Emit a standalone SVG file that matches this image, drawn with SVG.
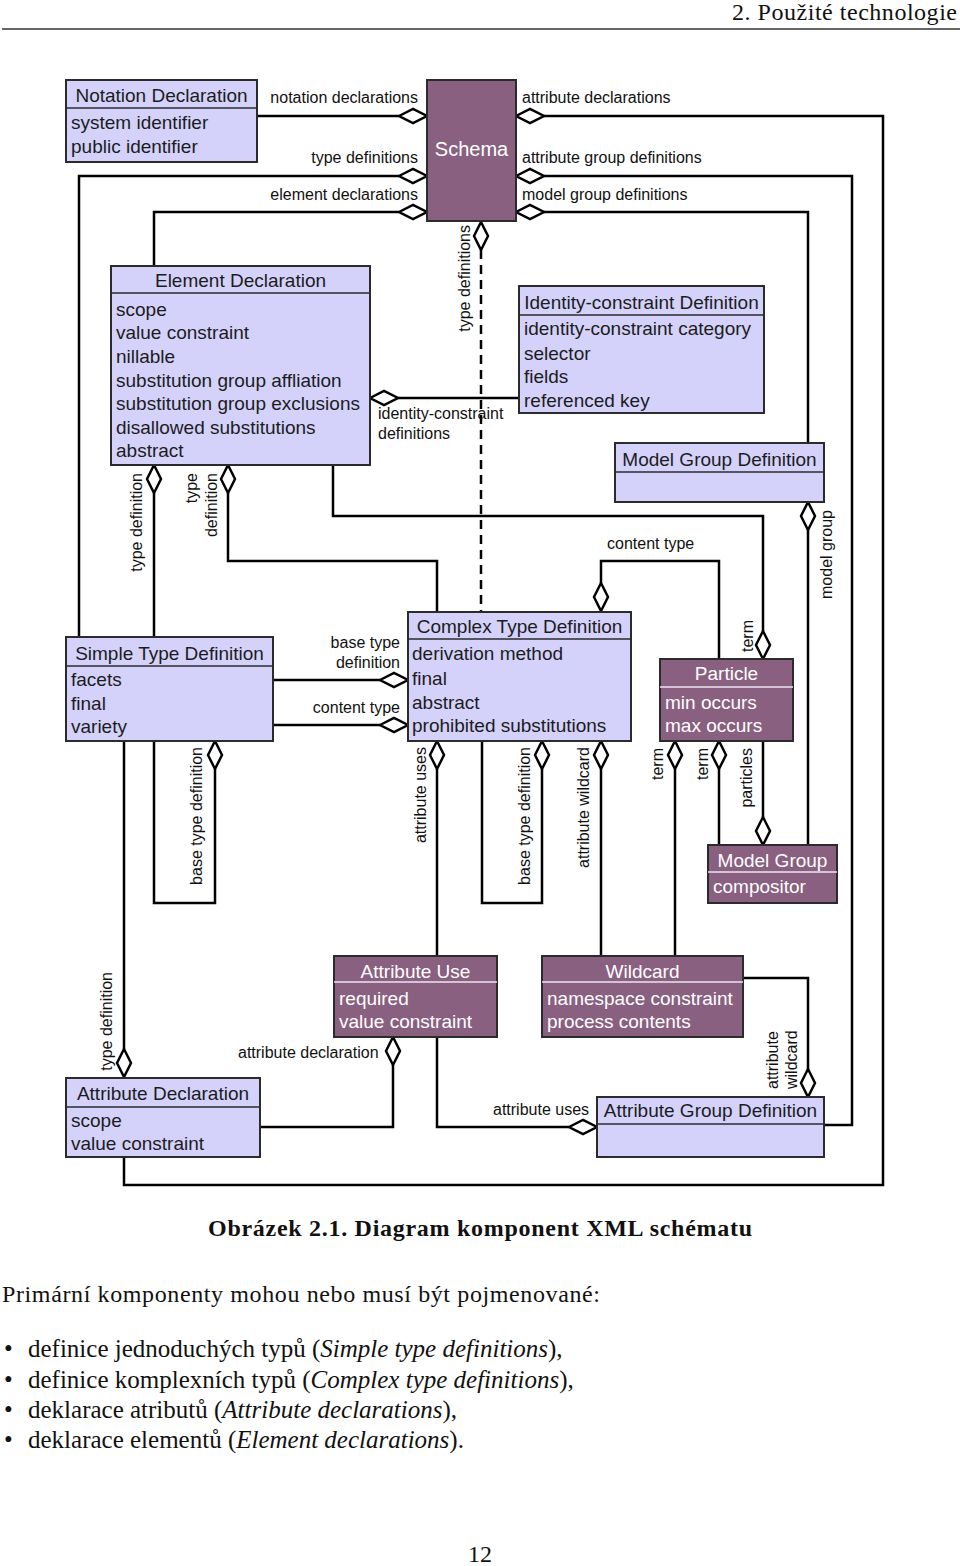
<svg xmlns="http://www.w3.org/2000/svg" xmlns:xlink="http://www.w3.org/1999/xlink" width="960" height="1566" viewBox="0 0 960 1566">
<style>
.box{fill:#d4d2fb;stroke:#2b2b2b;stroke-width:2}
.pbox{fill:#8a6080;stroke:#2b2b2b;stroke-width:2}
.div{stroke:#2b2b2b;stroke-width:1.6}
.pdiv{stroke:#ece4f2;stroke-width:1.6}
.t{font-family:"Liberation Sans",Arial,sans-serif;font-size:19px;fill:#1c1c1c}
.pt{font-family:"Liberation Sans",Arial,sans-serif;font-size:19px;fill:#ffffff}
.ct{text-anchor:middle}
.lbl{font-family:"Liberation Sans",Arial,sans-serif;font-size:16px;fill:#111}
.e{text-anchor:end}
.c{fill:none;stroke:#000;stroke-width:2.5}
.dash{fill:none;stroke:#000;stroke-width:2.5;stroke-dasharray:9,6}
.d{fill:#fff;stroke:#000;stroke-width:2.5}
.pg{font-family:"Liberation Serif","Times New Roman",serif;font-size:24px;fill:#111}
.bl{font-size:25px}
</style>
<defs>
<path id="dh" d="M-14,0 L0,-7 L14,0 L0,7 Z"/>
<path id="dv" d="M0,-14 L7,0 L0,14 L-7,0 Z"/>
</defs>
<rect width="960" height="1566" fill="#fff"/>

<g id="page-header">
<text class="pg" x="957" y="20" text-anchor="end" textLength="225">2. Použité technologie</text>
<line x1="2" y1="29" x2="960" y2="29" stroke="#333" stroke-width="1.6"/>
</g>

<g id="connectors">
<path class="c" d="M257,116 H399"/>
<path class="c" d="M399,176 H79 V637"/>
<path class="c" d="M399,212 H154 V266"/>
<path class="c" d="M544,116 H883 V1185 H124 V1157"/>
<path class="c" d="M544,176 H852 V1125 H824"/>
<path class="c" d="M544,212 H808 V443"/>
<path class="dash" d="M481,250 V611"/>
<path class="c" d="M398,398 H519"/>
<path class="c" d="M154,493 V637"/>
<path class="c" d="M228,493 V561 H437 V611"/>
<path class="c" d="M333,465 V516 H763 V631"/>
<path class="c" d="M601,583 V561 H719 V659"/>
<path class="c" d="M273,680 H380"/>
<path class="c" d="M273,725 H380"/>
<path class="c" d="M154,741 V903 H215 V769"/>
<path class="c" d="M124,741 V1049"/>
<path class="c" d="M437,769 V956"/>
<path class="c" d="M482,741 V903 H542 V769"/>
<path class="c" d="M601,769 V956"/>
<path class="c" d="M675,769 V956"/>
<path class="c" d="M719,769 V845"/>
<path class="c" d="M763,817 V741"/>
<path class="c" d="M808,530 V845"/>
<path class="c" d="M393,1065 V1127 H260"/>
<path class="c" d="M437,1037 V1127 H569"/>
<path class="c" d="M743,978 H808 V1069"/>

<use href="#dh" x="413" y="116" class="d"/>
<use href="#dh" x="413" y="176" class="d"/>
<use href="#dh" x="413" y="212" class="d"/>
<use href="#dh" x="530" y="116" class="d"/>
<use href="#dh" x="530" y="176" class="d"/>
<use href="#dh" x="530" y="212" class="d"/>
<use href="#dh" x="384" y="398" class="d"/>
<use href="#dh" x="394" y="680" class="d"/>
<use href="#dh" x="394" y="725" class="d"/>
<use href="#dh" x="583" y="1127" class="d"/>
<use href="#dv" x="481" y="236" class="d"/>
<use href="#dv" x="154" y="479" class="d"/>
<use href="#dv" x="228" y="479" class="d"/>
<use href="#dv" x="601" y="597" class="d"/>
<use href="#dv" x="808" y="516" class="d"/>
<use href="#dv" x="763" y="645" class="d"/>
<use href="#dv" x="215" y="755" class="d"/>
<use href="#dv" x="437" y="755" class="d"/>
<use href="#dv" x="542" y="755" class="d"/>
<use href="#dv" x="601" y="755" class="d"/>
<use href="#dv" x="675" y="755" class="d"/>
<use href="#dv" x="719" y="755" class="d"/>
<use href="#dv" x="763" y="831" class="d"/>
<use href="#dv" x="393" y="1051" class="d"/>
<use href="#dv" x="124" y="1063" class="d"/>
<use href="#dv" x="808" y="1083" class="d"/>

<text class="lbl e" x="418" y="103">notation declarations</text>
<text class="lbl e" x="418" y="163">type definitions</text>
<text class="lbl e" x="418" y="200">element declarations</text>
<text class="lbl" x="522" y="103">attribute declarations</text>
<text class="lbl" x="522" y="163">attribute group definitions</text>
<text class="lbl" x="522" y="200">model group definitions</text>
<text class="lbl e" transform="translate(470,225) rotate(-90)">type definitions</text>
<text class="lbl e" transform="translate(142,473) rotate(-90)">type definition</text>
<text class="lbl e" transform="translate(197,473) rotate(-90)">type</text>
<text class="lbl e" transform="translate(217,473) rotate(-90)">definition</text>
<text class="lbl" x="378" y="419">identity-constraint</text>
<text class="lbl" x="378" y="439">definitions</text>
<text class="lbl" x="607" y="549">content type</text>
<text class="lbl e" transform="translate(832,510) rotate(-90)">model group</text>
<text class="lbl e" x="400" y="648">base type</text>
<text class="lbl e" x="400" y="668">definition</text>
<text class="lbl e" x="400" y="713">content type</text>
<text class="lbl e" transform="translate(202,747) rotate(-90)">base type definition</text>
<text class="lbl e" transform="translate(426,747) rotate(-90)">attribute uses</text>
<text class="lbl e" transform="translate(530,747) rotate(-90)">base type definition</text>
<text class="lbl e" transform="translate(589,747) rotate(-90)">attribute wildcard</text>
<text class="lbl e" transform="translate(753,620) rotate(-90)">term</text>
<text class="lbl e" transform="translate(663,748) rotate(-90)">term</text>
<text class="lbl e" transform="translate(708,748) rotate(-90)">term</text>
<text class="lbl e" transform="translate(752,748) rotate(-90)">particles</text>
<text class="lbl e" transform="translate(112,972) rotate(-90)">type definition</text>
<text class="lbl" x="238" y="1058">attribute declaration</text>
<text class="lbl" x="493" y="1115">attribute uses</text>
<text class="lbl" transform="translate(778,1089) rotate(-90)">attribute</text>
<text class="lbl" transform="translate(797,1089) rotate(-90)">wildcard</text>
</g>

<g id="notation-declaration">
<rect class="box" x="66" y="80" width="191" height="82"/>
<line class="div" x1="66" y1="108" x2="257" y2="108"/>
<text class="t ct" x="161.5" y="102">Notation Declaration</text>
<text class="t" x="71" y="129">system identifier</text>
<text class="t" x="71" y="153">public identifier</text>
</g>

<g id="schema">
<rect class="pbox" x="427" y="80" width="89" height="141"/>
<text class="pt ct" x="471.5" y="156" style="font-size:20px">Schema</text>
</g>

<g id="element-declaration">
<rect class="box" x="111" y="266" width="259" height="199"/>
<line class="div" x1="111" y1="293" x2="370" y2="293"/>
<text class="t ct" x="240.5" y="287">Element Declaration</text>
<text class="t" x="116" y="316">scope</text>
<text class="t" x="116" y="339">value constraint</text>
<text class="t" x="116" y="363">nillable</text>
<text class="t" x="116" y="387">substitution group affliation</text>
<text class="t" x="116" y="410">substitution group exclusions</text>
<text class="t" x="116" y="434">disallowed substitutions</text>
<text class="t" x="116" y="457">abstract</text>
</g>

<g id="identity-constraint-definition">
<rect class="box" x="519" y="286" width="245" height="127"/>
<line class="div" x1="519" y1="315" x2="764" y2="315"/>
<text class="t ct" x="641.5" y="309">Identity-constraint Definition</text>
<text class="t" x="524" y="335">identity-constraint category</text>
<text class="t" x="524" y="360">selector</text>
<text class="t" x="524" y="383">fields</text>
<text class="t" x="524" y="407">referenced key</text>
</g>

<g id="model-group-definition">
<rect class="box" x="615" y="443" width="209" height="59"/>
<line class="div" x1="615" y1="472" x2="824" y2="472"/>
<text class="t ct" x="719.5" y="466">Model Group Definition</text>
</g>

<g id="simple-type-definition">
<rect class="box" x="66" y="637" width="207" height="104"/>
<line class="div" x1="66" y1="666" x2="273" y2="666"/>
<text class="t ct" x="169.5" y="660">Simple Type Definition</text>
<text class="t" x="71" y="686">facets</text>
<text class="t" x="71" y="710">final</text>
<text class="t" x="71" y="733">variety</text>
</g>

<g id="complex-type-definition">
<rect class="box" x="408" y="612" width="223" height="129"/>
<line class="div" x1="408" y1="639" x2="631" y2="639"/>
<text class="t ct" x="519.5" y="633">Complex Type Definition</text>
<text class="t" x="412" y="660">derivation method</text>
<text class="t" x="412" y="685">final</text>
<text class="t" x="412" y="709">abstract</text>
<text class="t" x="412" y="732">prohibited substitutions</text>
</g>

<g id="particle">
<rect class="pbox" x="660" y="659" width="133" height="82"/>
<line class="pdiv" x1="660" y1="687" x2="793" y2="687"/>
<text class="pt ct" x="726.5" y="680">Particle</text>
<text class="pt" x="665" y="709">min occurs</text>
<text class="pt" x="665" y="732">max occurs</text>
</g>

<g id="model-group">
<rect class="pbox" x="708" y="845" width="129" height="58"/>
<line class="pdiv" x1="708" y1="872" x2="837" y2="872"/>
<text class="pt ct" x="772.5" y="867">Model Group</text>
<text class="pt" x="713" y="893">compositor</text>
</g>

<g id="attribute-use">
<rect class="pbox" x="334" y="956" width="163" height="81"/>
<line class="pdiv" x1="334" y1="982" x2="497" y2="982"/>
<text class="pt ct" x="415.5" y="978">Attribute Use</text>
<text class="pt" x="339" y="1005">required</text>
<text class="pt" x="339" y="1028">value constraint</text>
</g>

<g id="wildcard">
<rect class="pbox" x="542" y="956" width="201" height="81"/>
<line class="pdiv" x1="542" y1="982" x2="743" y2="982"/>
<text class="pt ct" x="642.5" y="978">Wildcard</text>
<text class="pt" x="547" y="1005">namespace constraint</text>
<text class="pt" x="547" y="1028">process contents</text>
</g>

<g id="attribute-declaration">
<rect class="box" x="66" y="1078" width="194" height="79"/>
<line class="div" x1="66" y1="1107" x2="260" y2="1107"/>
<text class="t ct" x="163" y="1100">Attribute Declaration</text>
<text class="t" x="71" y="1127">scope</text>
<text class="t" x="71" y="1150">value constraint</text>
</g>

<g id="attribute-group-definition">
<rect class="box" x="597" y="1097" width="227" height="60"/>
<line class="div" x1="597" y1="1124" x2="824" y2="1124"/>
<text class="t ct" x="710.5" y="1117">Attribute Group Definition</text>
</g>

<g id="page-text">
<text class="pg" x="480" y="1236" text-anchor="middle" font-weight="bold" textLength="544">Obrázek 2.1. Diagram komponent XML schématu</text>
<text class="pg" x="2" y="1302" textLength="598">Primární komponenty mohou nebo musí být pojmenované:</text>
<text class="pg bl" x="4" y="1357">•</text>
<text class="pg bl" x="28" y="1357">definice jednoduchých typů (<tspan font-style="italic">Simple type definitions</tspan>),</text>
<text class="pg bl" x="4" y="1388">•</text>
<text class="pg bl" x="28" y="1388">definice komplexních typů (<tspan font-style="italic">Complex type definitions</tspan>),</text>
<text class="pg bl" x="4" y="1418">•</text>
<text class="pg bl" x="28" y="1418">deklarace atributů (<tspan font-style="italic">Attribute declarations</tspan>),</text>
<text class="pg bl" x="4" y="1448">•</text>
<text class="pg bl" x="28" y="1448">deklarace elementů (<tspan font-style="italic">Element declarations</tspan>).</text>
<text class="pg" x="480" y="1562" text-anchor="middle">12</text>
</g>
</svg>
